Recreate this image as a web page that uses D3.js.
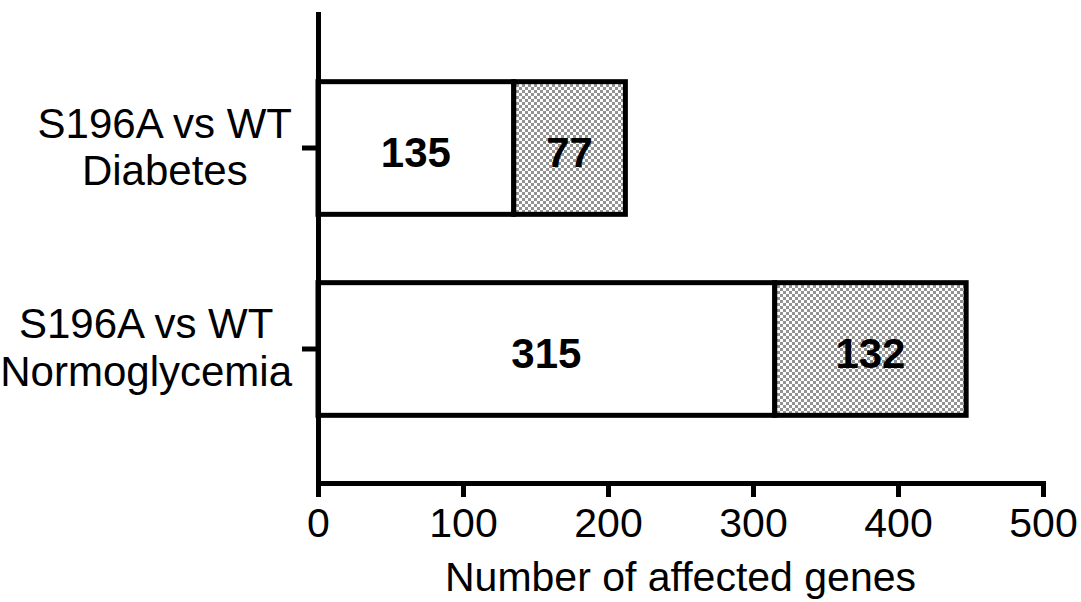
<!DOCTYPE html>
<html>
<head>
<meta charset="utf-8">
<script src="https://cdn.jsdelivr.net/npm/d3@7"></script>
<style>
  body { margin: 0; background: #fff; }
  svg { display: block; font-family: "Liberation Sans", Arial, sans-serif; }
</style>
</head>
<body>
<div class="chart"></div>
<script>
'use strict';
(function() {
  // Data
  var categories = ['S196A vs WT\nDiabetes', 'S196A vs WT\nNormoglycemia'];
  var plainCounts = [135, 315];
  var hatchedCounts = [77, 132];
  var xTicks = [0, 100, 200, 300, 400, 500];
  var xTitle = 'Number of affected genes';

  //Width and height
  var w = 1081;
  var h = 602;
  var left = 318;
  var right = 1043;
  var top = 14;
  var bottom = 483;
  var lineW = 5;

  var rows = categories.map(function(c, i) {
    return {name: c, plain: plainCounts[i], hatched: hatchedCounts[i]};
  });
  var stacked = d3.stack().keys(['plain', 'hatched'])(rows);

  var x = d3.scaleLinear().domain([0, 500]).range([left, right]);
  var y = d3.scaleBand()
    .domain(categories)
    .range([top, bottom])
    .paddingInner(0.34)
    .paddingOuter(0.3367);

  var svg = d3.select('.chart')
    .append('svg')
    .attr('width', w)
    .attr('height', h);

  // Checker pattern for second segment
  var pat = svg.append('defs')
    .append('pattern')
    .attr('id', 'checker')
    .attr('patternUnits', 'userSpaceOnUse')
    .attr('width', 6)
    .attr('height', 6);
  pat.append('rect').attr('width', 6).attr('height', 6).attr('fill', '#fff');
  pat.append('rect').attr('width', 3).attr('height', 3).attr('fill', '#939393');
  pat.append('rect').attr('x', 3).attr('y', 3).attr('width', 3).attr('height', 3).attr('fill', '#939393');

  // Bars
  svg.append('g')
    .attr('class', 'data')
    .selectAll('g')
    .data(stacked)
    .enter()
    .append('g')
    .attr('fill', function(d) { return d.key === 'plain' ? '#fff' : 'url(#checker)'; })
    .selectAll('rect')
    .data(function(d) { return d; })
    .enter()
    .append('rect')
    .attr('x', function(d) { return x(d[0]); })
    .attr('y', function(d) { return y(d.data.name); })
    .attr('width', function(d) { return x(d[1]) - x(d[0]); })
    .attr('height', y.bandwidth())
    .attr('stroke', '#000')
    .attr('stroke-width', lineW);

  // Value labels
  svg.append('g')
    .selectAll('g')
    .data(stacked)
    .enter()
    .append('g')
    .selectAll('text')
    .data(function(d) { return d; })
    .enter()
    .append('text')
    .attr('x', function(d) { return (x(d[0]) + x(d[1])) / 2; })
    .attr('y', function(d) { return y(d.data.name) + y.bandwidth() / 2 + 19; })
    .attr('text-anchor', 'middle')
    .attr('font-size', 42)
    .attr('font-weight', 'bold')
    .text(function(d) { return d[1] - d[0]; });

  // X axis
  var xAxis = svg.append('g')
    .attr('transform', 'translate(0,' + bottom + ')')
    .call(d3.axisBottom(x).tickValues(xTicks).tickSize(14).tickSizeOuter(0));
  xAxis.select('.domain').attr('stroke-width', lineW).attr('stroke-linecap', 'square');
  xAxis.selectAll('.tick line').attr('stroke-width', lineW);
  xAxis.selectAll('.tick text')
    .attr('y', 54)
    .attr('dy', null)
    .attr('font-size', 41)
    .attr('font-family', null)
    .attr('fill', '#000');

  // Y axis
  var yAxis = svg.append('g')
    .attr('transform', 'translate(' + left + ',0)')
    .call(d3.axisLeft(y).tickSize(16).tickSizeOuter(0));
  yAxis.select('.domain').attr('stroke-width', lineW).attr('stroke-linecap', 'square');
  yAxis.selectAll('.tick line').attr('stroke-width', lineW);
  yAxis.selectAll('.tick text').remove();

  // Multi-line category labels, block centred, right edge near the ticks
  var labelRight = -26;
  yAxis.selectAll('.tick').each(function(d) {
    var g = d3.select(this);
    var lines = d.split('\n');
    var t = g.append('text')
      .attr('font-size', 42)
      .attr('fill', '#000')
      .attr('text-anchor', 'middle');
    lines.forEach(function(line, i) {
      t.append('tspan').attr('y', -10.5 + i * 47.5).text(line);
    });
    var maxW = 0;
    t.selectAll('tspan').each(function() {
      maxW = Math.max(maxW, this.getComputedTextLength());
    });
    t.selectAll('tspan').attr('x', labelRight - maxW / 2);
  });

  // X title
  svg.append('text')
    .attr('x', (left + right) / 2)
    .attr('y', 591)
    .attr('text-anchor', 'middle')
    .attr('font-size', 41)
    .text(xTitle);
})();
</script>
</body>
</html>
